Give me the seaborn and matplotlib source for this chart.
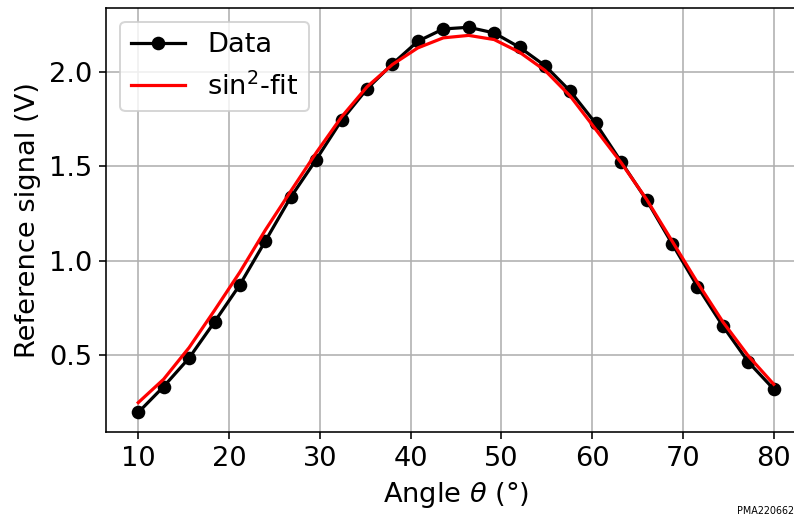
import numpy as np
import pandas as pd
import matplotlib
matplotlib.use("Agg")
import matplotlib.pyplot as plt
import seaborn as sns

# Measured reference signal versus polariser angle
angle_deg = [10.0, 12.8, 15.6, 18.4, 21.2, 24.0, 26.8, 29.6, 32.4, 35.2,
             38.0, 40.8, 43.6, 46.4, 49.2, 52.0, 54.8, 57.6, 60.4, 63.2,
             66.0, 68.8, 71.6, 74.4, 77.2, 80.0]
signal_v = [0.198, 0.335, 0.486, 0.677, 0.874, 1.105, 1.337, 1.536, 1.744, 1.910,
            2.042, 2.162, 2.227, 2.236, 2.206, 2.130, 2.033, 1.897, 1.727, 1.524,
            1.321, 1.091, 0.864, 0.655, 0.465, 0.321]
# sin^2 fit evaluated on the same angles
fit_v = [0.250, 0.374, 0.541, 0.738, 0.941, 1.163, 1.369, 1.572, 1.762, 1.921,
         2.039, 2.127, 2.180, 2.193, 2.171, 2.104, 2.008, 1.871, 1.695, 1.519,
         1.325, 1.105, 0.885, 0.677, 0.497, 0.347]

df = pd.DataFrame({"angle": angle_deg, "signal": signal_v, "fit": fit_v})

FS = 13.6
plt.rcParams.update({
    "font.family": "DejaVu Sans",
    "font.size": FS,
    "axes.linewidth": 0.8,
})

fig = plt.figure(figsize=(794 / 144, 520 / 144), dpi=144)
ax = fig.add_axes([0.1341, 0.1698, 0.8804, 0.8148])

sns.lineplot(data=df, x="angle", y="signal", ax=ax, color="black",
             marker="o", markersize=6.8, markeredgewidth=0, linewidth=1.6,
             label="Data", sort=False, estimator=None)
sns.lineplot(data=df, x="angle", y="fit", ax=ax, color="red",
             linewidth=1.6, label="sin$^2$-fit", sort=False, estimator=None)

ax.grid(True, color="#b0b0b0", linewidth=0.8)
ax.set_xlabel(r"Angle $\theta$ (°)", fontsize=FS)
ax.set_ylabel("Reference signal (V)", fontsize=FS)
ax.tick_params(labelsize=FS)
ax.set_xticks([10, 20, 30, 40, 50, 60, 70, 80])
ax.set_yticks([0.5, 1.0, 1.5, 2.0])
ax.legend(loc="upper left", fontsize=FS)

fig.text(1.0, 0.008, "PMA220662", ha="right", va="bottom", fontsize=4.8)

fig.savefig("out.png", dpi=144)
